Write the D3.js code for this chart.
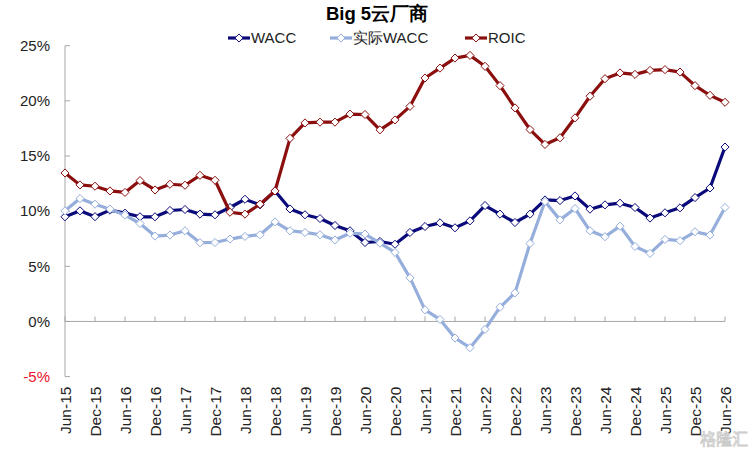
<!DOCTYPE html>
<html>
<head>
<meta charset="utf-8">
<script src="https://cdn.jsdelivr.net/npm/d3@7"></script>
<style>
  body { margin: 0; background: #fff; }
  svg { display: block; font-family: "Liberation Sans", Arial, sans-serif; }
</style>
</head>
<body>
<div class="chart"></div>
<script>
// quarterly categories, Jun-15 .. Jun-26
const quarters = [
  'Jun-15', 'Sep-15', 'Dec-15', 'Mar-16', 'Jun-16', 'Sep-16', 'Dec-16', 'Mar-17',
  'Jun-17', 'Sep-17', 'Dec-17', 'Mar-18', 'Jun-18', 'Sep-18', 'Dec-18', 'Mar-19',
  'Jun-19', 'Sep-19', 'Dec-19', 'Mar-20', 'Jun-20', 'Sep-20', 'Dec-20', 'Mar-21',
  'Jun-21', 'Sep-21', 'Dec-21', 'Mar-22', 'Jun-22', 'Sep-22', 'Dec-22', 'Mar-23',
  'Jun-23', 'Sep-23', 'Dec-23', 'Mar-24', 'Jun-24', 'Sep-24', 'Dec-24', 'Mar-25',
  'Jun-25', 'Sep-25', 'Dec-25', 'Mar-26', 'Jun-26'
];

const wacc = [9.49, 10.03, 9.5, 10.09, 9.82, 9.49, 9.49, 10.06, 10.15, 9.73, 9.67, 10.33,
  11.08, 10.57, 11.83, 10.2, 9.67, 9.33, 8.7, 8.22, 7.16, 7.25, 7.0, 8.07, 8.61, 8.94,
  8.49, 9.12, 10.51, 9.73, 8.97, 9.73, 11.02, 10.96, 11.38, 10.18, 10.57, 10.72, 10.33,
  9.37, 9.85, 10.3, 11.23, 12.1, 15.81];

const actualWacc = [10.03, 11.14, 10.63, 10.18, 9.64, 8.88, 7.74, 7.83, 8.22, 7.14, 7.16,
  7.47, 7.71, 7.86, 9.03, 8.22, 8.07, 7.86, 7.38, 8.0, 7.92, 7.1, 6.26, 3.95, 1.05, 0.18,
  -1.5, -2.38, -0.72, 1.29, 2.59, 7.07, 10.87, 9.21, 10.24, 8.22, 7.68, 8.64, 6.8, 6.17,
  7.44, 7.32, 8.13, 7.83, 10.33];

const roic = [13.46, 12.38, 12.26, 11.83, 11.7, 12.77, 11.92, 12.44, 12.35, 13.25, 12.8,
  9.9, 9.73, 10.63, 11.83, 16.6, 18.0, 18.07, 18.07, 18.8, 18.76, 17.37, 18.27, 19.5,
  22.07, 22.97, 23.88, 24.12, 23.13, 21.38, 19.36, 17.4, 16.05, 16.65, 18.46, 20.42,
  22.01, 22.53, 22.4, 22.76, 22.83, 22.61, 21.38, 20.5, 19.87];

const yTicks = [-5, 0, 5, 10, 15, 20, 25];

const series = [
  {name: 'WACC', values: wacc, color: '#0a0a7a'},
  {name: '实际WACC', values: actualWacc, color: '#95aedb'},
  {name: 'ROIC', values: roic, color: '#8c0f0f'}
];

const outerWidth = 753;
const outerHeight = 453;
const margin = {top: 45.7, right: 28, bottom: 76.4, left: 65};
const width = outerWidth - margin.left - margin.right;
const height = outerHeight - margin.top - margin.bottom;

const svg = d3.select('.chart').append('svg')
  .attr('width', outerWidth)
  .attr('height', outerHeight);

const g = svg.append('g')
  .attr('transform', 'translate(' + margin.left + ',' + margin.top + ')');

const x = d3.scalePoint()
  .domain(quarters)
  .range([0, width]);

const y = d3.scaleLinear()
  .domain([-5, 25])
  .range([height, 0]);

const axisColor = '#a6a6a6';

// y axis line + inward ticks
g.append('line')
  .attr('x1', 0).attr('x2', 0)
  .attr('y1', 0).attr('y2', height)
  .attr('stroke', axisColor);
g.selectAll('.ytick')
  .data(yTicks)
  .join('line')
  .attr('x1', 0).attr('x2', 5)
  .attr('y1', d => y(d)).attr('y2', d => y(d))
  .attr('stroke', axisColor);
g.selectAll('.ylab')
  .data(yTicks)
  .join('text')
  .attr('x', -15)
  .attr('y', d => y(d))
  .attr('dy', '0.35em')
  .attr('text-anchor', 'end')
  .attr('font-size', 15)
  .attr('fill', d => d < 0 ? '#e8112d' : '#222')
  .text(d => d + '%');

// x axis along 0%, ticks every half year pointing up
const labelled = quarters.filter((q, i) => i % 2 === 0);
g.append('line')
  .attr('x1', 0).attr('x2', width)
  .attr('y1', y(0)).attr('y2', y(0))
  .attr('stroke', axisColor);
g.selectAll('.xtick')
  .data(labelled)
  .join('line')
  .attr('x1', d => x(d)).attr('x2', d => x(d))
  .attr('y1', y(0)).attr('y2', y(0) - 5)
  .attr('stroke', axisColor);
g.selectAll('.xlab')
  .data(labelled)
  .join('text')
  .attr('transform', d => 'translate(' + x(d) + ',' + (height + 10) + ') rotate(-90)')
  .attr('dy', '0.36em')
  .attr('text-anchor', 'end')
  .attr('font-size', 15.5)
  .attr('fill', '#222')
  .text(d => d);

// lines and diamond markers
const line = d3.line()
  .x((d, i) => x(quarters[i]))
  .y(d => y(d));

const diamond = d3.symbol().type(d3.symbolDiamond2).size(42);

series.forEach(s => {
  g.append('path')
    .datum(s.values)
    .attr('fill', 'none')
    .attr('stroke', s.color)
    .attr('stroke-width', 3.2)
    .attr('stroke-linejoin', 'round')
    .attr('d', line);
  g.selectAll(null)
    .data(s.values)
    .join('path')
    .attr('transform', (d, i) => 'translate(' + x(quarters[i]) + ',' + y(d) + ')')
    .attr('d', diamond)
    .attr('fill', '#fff')
    .attr('stroke', s.color)
    .attr('stroke-width', 1);
});

// title
svg.append('text')
  .attr('x', 377)
  .attr('y', 19.5)
  .attr('text-anchor', 'middle')
  .attr('font-size', 18.5)
  .attr('font-weight', 'bold')
  .attr('fill', '#000')
  .text('Big 5云厂商');

// legend
const legendX = [228, 330, 465];
const legend = svg.selectAll('.legend')
  .data(series)
  .join('g')
  .attr('transform', (d, i) => 'translate(' + legendX[i] + ',38)');
legend.append('line')
  .attr('x1', 0).attr('x2', 22)
  .attr('stroke', d => d.color)
  .attr('stroke-width', 3.2);
legend.append('path')
  .attr('transform', 'translate(11,0)')
  .attr('d', diamond)
  .attr('fill', '#fff')
  .attr('stroke', d => d.color);
legend.append('text')
  .attr('x', 23)
  .attr('dy', '0.35em')
  .attr('font-size', 15)
  .attr('fill', '#222')
  .text(d => d.name);

// watermark
svg.append('text')
  .attr('x', 748)
  .attr('y', 445)
  .attr('text-anchor', 'end')
  .attr('font-size', 16)
  .attr('fill', 'none')
  .attr('stroke', '#c8c8c8')
  .attr('stroke-width', 0.8)
  .attr('font-family', 'Noto Sans CJK SC')
  .text('格隆汇');
</script>
</body>
</html>
